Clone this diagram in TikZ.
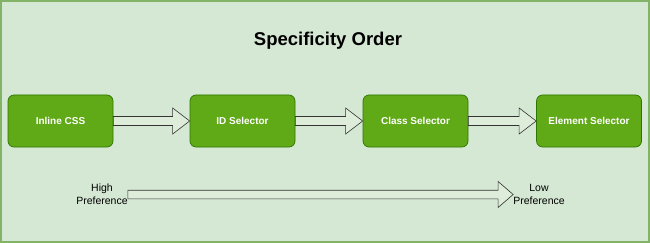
\documentclass[tikz,border=0pt]{standalone}
\usepackage{fontspec}
\setmainfont{Liberation Sans}
\usepackage{tikz}
\usetikzlibrary{calc}
\definecolor{pagegreen}{HTML}{D5E8D4}
\definecolor{frameline}{HTML}{82B366}
\definecolor{boxgreen}{HTML}{60A917}
\definecolor{boxline}{HTML}{2D7600}
\definecolor{arrowfill}{HTML}{DDEDDA}

\tikzset{
  selector/.style={draw=boxline, fill=boxgreen, rounded corners=6pt, line width=0.7pt,
    minimum width=105pt, minimum height=52pt, text=white, font=\bfseries\fontsize{10}{12}\selectfont},
  rank/.style={align=center, inner sep=0pt, font=\fontsize{10.5}{13}\selectfont},
  fatarrow/.style={draw=black!80, fill=arrowfill, line width=0.6pt, line join=miter}
}

% block arrow from node #1 to node #2: shaft half height #3, head half height #4, head length #5
\newcommand{\fatarrow}[5]{
  \draw[fatarrow] ($(#1.east)+(0,#3)$) -- ($(#2.west)+(-#5,#3)$) -- ($(#2.west)+(-#5,#4)$)
    -- (#2.west) -- ($(#2.west)+(-#5,-#4)$) -- ($(#2.west)+(-#5,-#3)$)
    -- ($(#1.east)+(0,-#3)$) -- cycle;
}

\begin{document}
\begin{tikzpicture}[x=1pt, y=-1pt]
  \draw[frameline, fill=pagegreen, line width=2pt] (1,1) rectangle (649,242);
  \useasboundingbox (0,0) rectangle (650,243);

  \node[font=\bfseries\fontsize{18.5}{22}\selectfont] (title) at (328,41) {Specificity Order};

  \node[selector] (inline) at (60.5,121) {Inline CSS};
  \node[selector] (idsel) at (242.5,121) {ID Selector};
  \node[selector] (classsel) at (415.5,121) {Class Selector};
  \node[selector] (elemsel) at (589,121) {Element Selector};

  \fatarrow{inline}{idsel}{4.5pt}{13pt}{17pt}
  \fatarrow{idsel}{classsel}{4.5pt}{13pt}{17pt}
  \fatarrow{classsel}{elemsel}{4.5pt}{13pt}{17pt}

  % preference scale
  \node[rank] (high) at (102,194.5) {High\\Preference};
  \node[rank] (low) at (539,194.5) {Low\\Preference};
  \fatarrow{high}{low}{4.3pt}{13pt}{15pt}
\end{tikzpicture}
\end{document}
